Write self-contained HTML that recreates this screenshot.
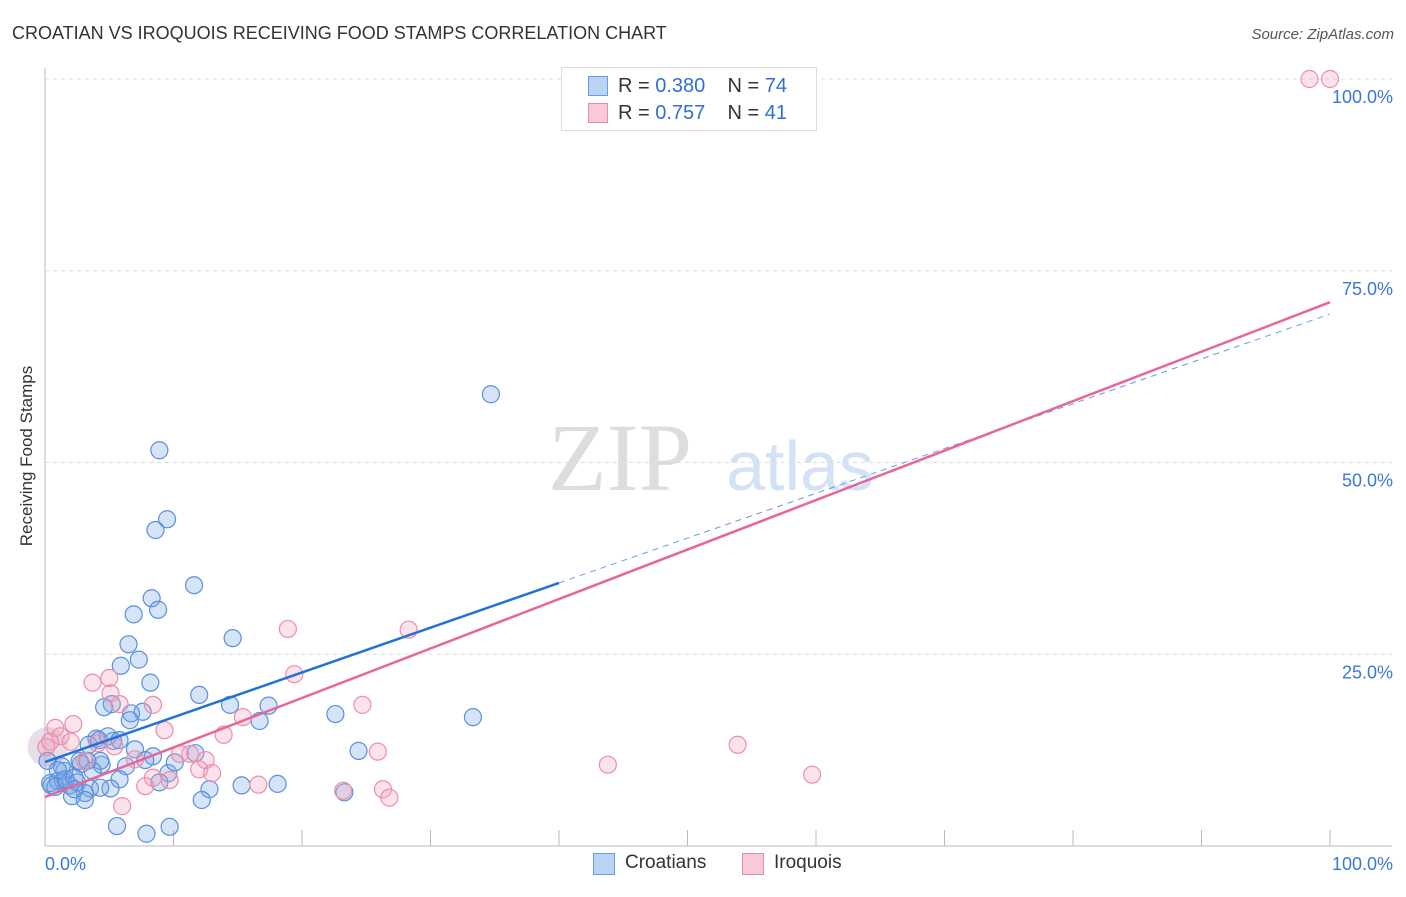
<!DOCTYPE html>
<html><head><meta charset="utf-8"><style>
body{margin:0;background:#fff;font-family:"Liberation Sans",sans-serif}
#c{position:relative;width:1406px;height:892px}
</style></head><body>
<div id="c">
<svg id="s" width="1406" height="892">
<text x="12" y="39" font-size="18" fill="#333">CROATIAN VS IROQUOIS RECEIVING FOOD STAMPS CORRELATION CHART</text>
<text x="1394" y="39" font-size="15" fill="#555" text-anchor="end" font-style="italic">Source: ZipAtlas.com</text>
<text x="32" y="456" font-size="17" fill="#333" text-anchor="middle" transform="rotate(-90 32 456)">Receiving Food Stamps</text>
<text x="620" y="490" font-size="96" fill="#ddd" text-anchor="middle" font-family="Liberation Serif,serif">ZIP</text>
<text x="800" y="490" font-size="70" fill="#d4e2f5" text-anchor="middle">atlas</text>
<g id="grid"></g><g id="pts"></g><g id="lines"></g>
</svg>
<div style="position:absolute;left:561px;top:67px;width:254px;height:62px;border:1px solid #ddd;background:#fff;font-size:20px">
<div style="position:absolute;left:26px;top:8px;width:18px;height:18px;background:#b9d3f5;border:1px solid #6b9be0"></div>
<div style="position:absolute;left:56px;top:7px;color:#333">R = <span style="color:#2f6fd6">0.380</span>&nbsp;&nbsp;&nbsp; N = <span style="color:#2f6fd6">74</span></div>
<div style="position:absolute;left:26px;top:35px;width:18px;height:18px;background:#f9c9d7;border:1px solid #e88aa8"></div>
<div style="position:absolute;left:56px;top:34px;color:#333">R = <span style="color:#2f6fd6">0.757</span>&nbsp;&nbsp;&nbsp; N = <span style="color:#2f6fd6">41</span></div>
</div>
<div style="position:absolute;left:593px;top:853px;width:20px;height:20px;background:#b9d3f5;border:1px solid #6b9be0"></div>
<div style="position:absolute;left:625px;top:852px;font-size:19px;color:#333">Croatians</div>
<div style="position:absolute;left:742px;top:853px;width:20px;height:20px;background:#f9c9d7;border:1px solid #e88aa8"></div>
<div style="position:absolute;left:774px;top:852px;font-size:19px;color:#333">Iroquois</div>
</div>
<script>
const yTicks=[25,50,75,100];
const yTickLabels=["25.0%","50.0%","75.0%","100.0%"];
const blueX=[34.7,8.9,9.5,8.6,11.6,8.3,8.8,6.9,14.6,6.5,7.3,5.9,8.2,12,5.2,4.6,14.4,17.4,7.6,6.7,22.6,33.3,16.7,4,5.3,3.4,7,24.4,11.7,8.4,7.8,2.8,4.4,6.3,9.6,1.5,5.8,8.9,15.3,4.3,0.5,1.9,3.5,5.1,1,1.4,2.3,0.4,0.8,12.8,18.1,3.1,4.3,2.1,3.1,12.2,23.3,5.6,7.9,9.7,0.2,1.3,6.6,10.1,4.2,4.9,5.8,2.7,3.7,1.6,1,2.5,3.3,2.3];
const blueY=[58.9,51.6,42.6,41.2,34,32.3,30.8,30.2,27.1,26.3,24.3,23.5,21.3,19.7,18.5,18.1,18.4,18.3,17.5,17.3,17.2,16.8,16.3,14,13.7,13.2,12.6,12.4,12.1,11.7,11.2,10.7,10.6,10.4,9.5,9.8,8.7,8.3,7.9,11.1,7.9,7.9,7.5,7.5,8.5,8.5,8.9,8.2,7.7,7.4,8.1,6.9,7.6,6.5,6,6,7,2.6,1.6,2.5,11.1,10.4,16.4,10.9,13.8,14.3,13.8,11.1,9.8,8.7,9.9,8.3,11.1,7.4];
const pinkX=[98.4,100,18.9,28.3,19.4,3.7,5,5.1,5.8,8.4,24.7,15.4,2.2,0.8,9.3,13.9,1.2,2,4.1,25.9,11.3,12.5,10.5,7,53.9,43.8,59.7,12,13,8.4,9.7,7.8,16.6,23.2,26.3,26.8,6,0.1,0.4,3.1,5.4];
const pinkY=[100,100,28.3,28.2,22.4,21.3,21.9,19.9,18.5,18.4,18.4,16.8,15.9,15.4,15.1,14.5,14.3,13.6,13.4,12.3,12,11.2,12,11.3,13.2,10.6,9.3,10,9.5,8.9,8.6,7.8,8,7.2,7.4,6.3,5.2,12.9,13.6,11.1,13.0];
const blueLine=[[0,10.95],[40,34.3]];
const blueDash=[[40,34.3],[100,69.35]];
const pinkLine=[[0,6.4],[100,70.9]];
const sx=v=>45+v*12.85, sy=v=>846-v*7.67;
const NS="http://www.w3.org/2000/svg";
function mk(t,a,p){const e=document.createElementNS(NS,t);for(const k in a)e.setAttribute(k,a[k]);p.appendChild(e);return e;}
const g=document.getElementById('grid');
yTicks.forEach((t,i)=>{
 const l=mk('line',{x1:45,x2:1392,y1:sy(t),y2:sy(t),stroke:'#ddd','stroke-dasharray':'4 4'},g);
 
 
 const tx=mk('text',{x:1393,y:sy(t)+24,'font-size':18,fill:'#3a78d8','text-anchor':'end'},g);
 tx.textContent=yTickLabels[i];
 
 
});
const ax=mk('line',{x1:45,x2:45,y1:68,y2:846,stroke:'#bbb'},g);


const bx=mk('line',{x1:45,x2:1392,y1:846,y2:846,stroke:'#bbb'},g);


for(let i=0;i<=10;i++){const t=mk('line',{x1:sx(i*10),x2:sx(i*10),y1:830,y2:846,stroke:'#bbb'},g);
 
 }
[[0,'0.0%','start',45],[100,'100.0%','end',1393]].forEach(d=>{const t=mk('text',{x:d[3],y:870,'font-size':18,fill:'#3a78d8','text-anchor':d[2]},g);t.textContent=d[1];
 
 });
const p=document.getElementById('pts');
const big=mk('circle',{cx:sx(0.2),cy:sy(12.9),r:20,fill:'rgba(200,170,200,0.4)',stroke:'none'},p);


blueX.forEach((x,i)=>{const c=mk('circle',{cx:sx(x),cy:sy(blueY[i]),r:8.5,fill:'rgba(120,165,230,0.3)',stroke:'#5b8fdc','stroke-width':1.2},p);
 
 });
pinkX.forEach((x,i)=>{const c=mk('circle',{cx:sx(x),cy:sy(pinkY[i]),r:8.5,fill:'rgba(245,160,185,0.3)',stroke:'#ea8fac','stroke-width':1.2},p);
 
 });
const L=document.getElementById('lines');
function ln(d,col,w,dash,name){const e=mk('line',{x1:sx(d[0][0]),y1:sy(d[0][1]),x2:sx(d[1][0]),y2:sy(d[1][1]),stroke:col,'stroke-width':w},L);if(dash)e.setAttribute('stroke-dasharray',dash);
 
 }
ln(blueDash,'#6a9be0',1,'6 5','croatian-trend-extension');
ln(pinkLine,'#e8659a',2.5,null,'iroquois-trend-line');
ln(blueLine,'#2270d8',2.5,null,'croatian-trend-line');
</script>
</body></html>
